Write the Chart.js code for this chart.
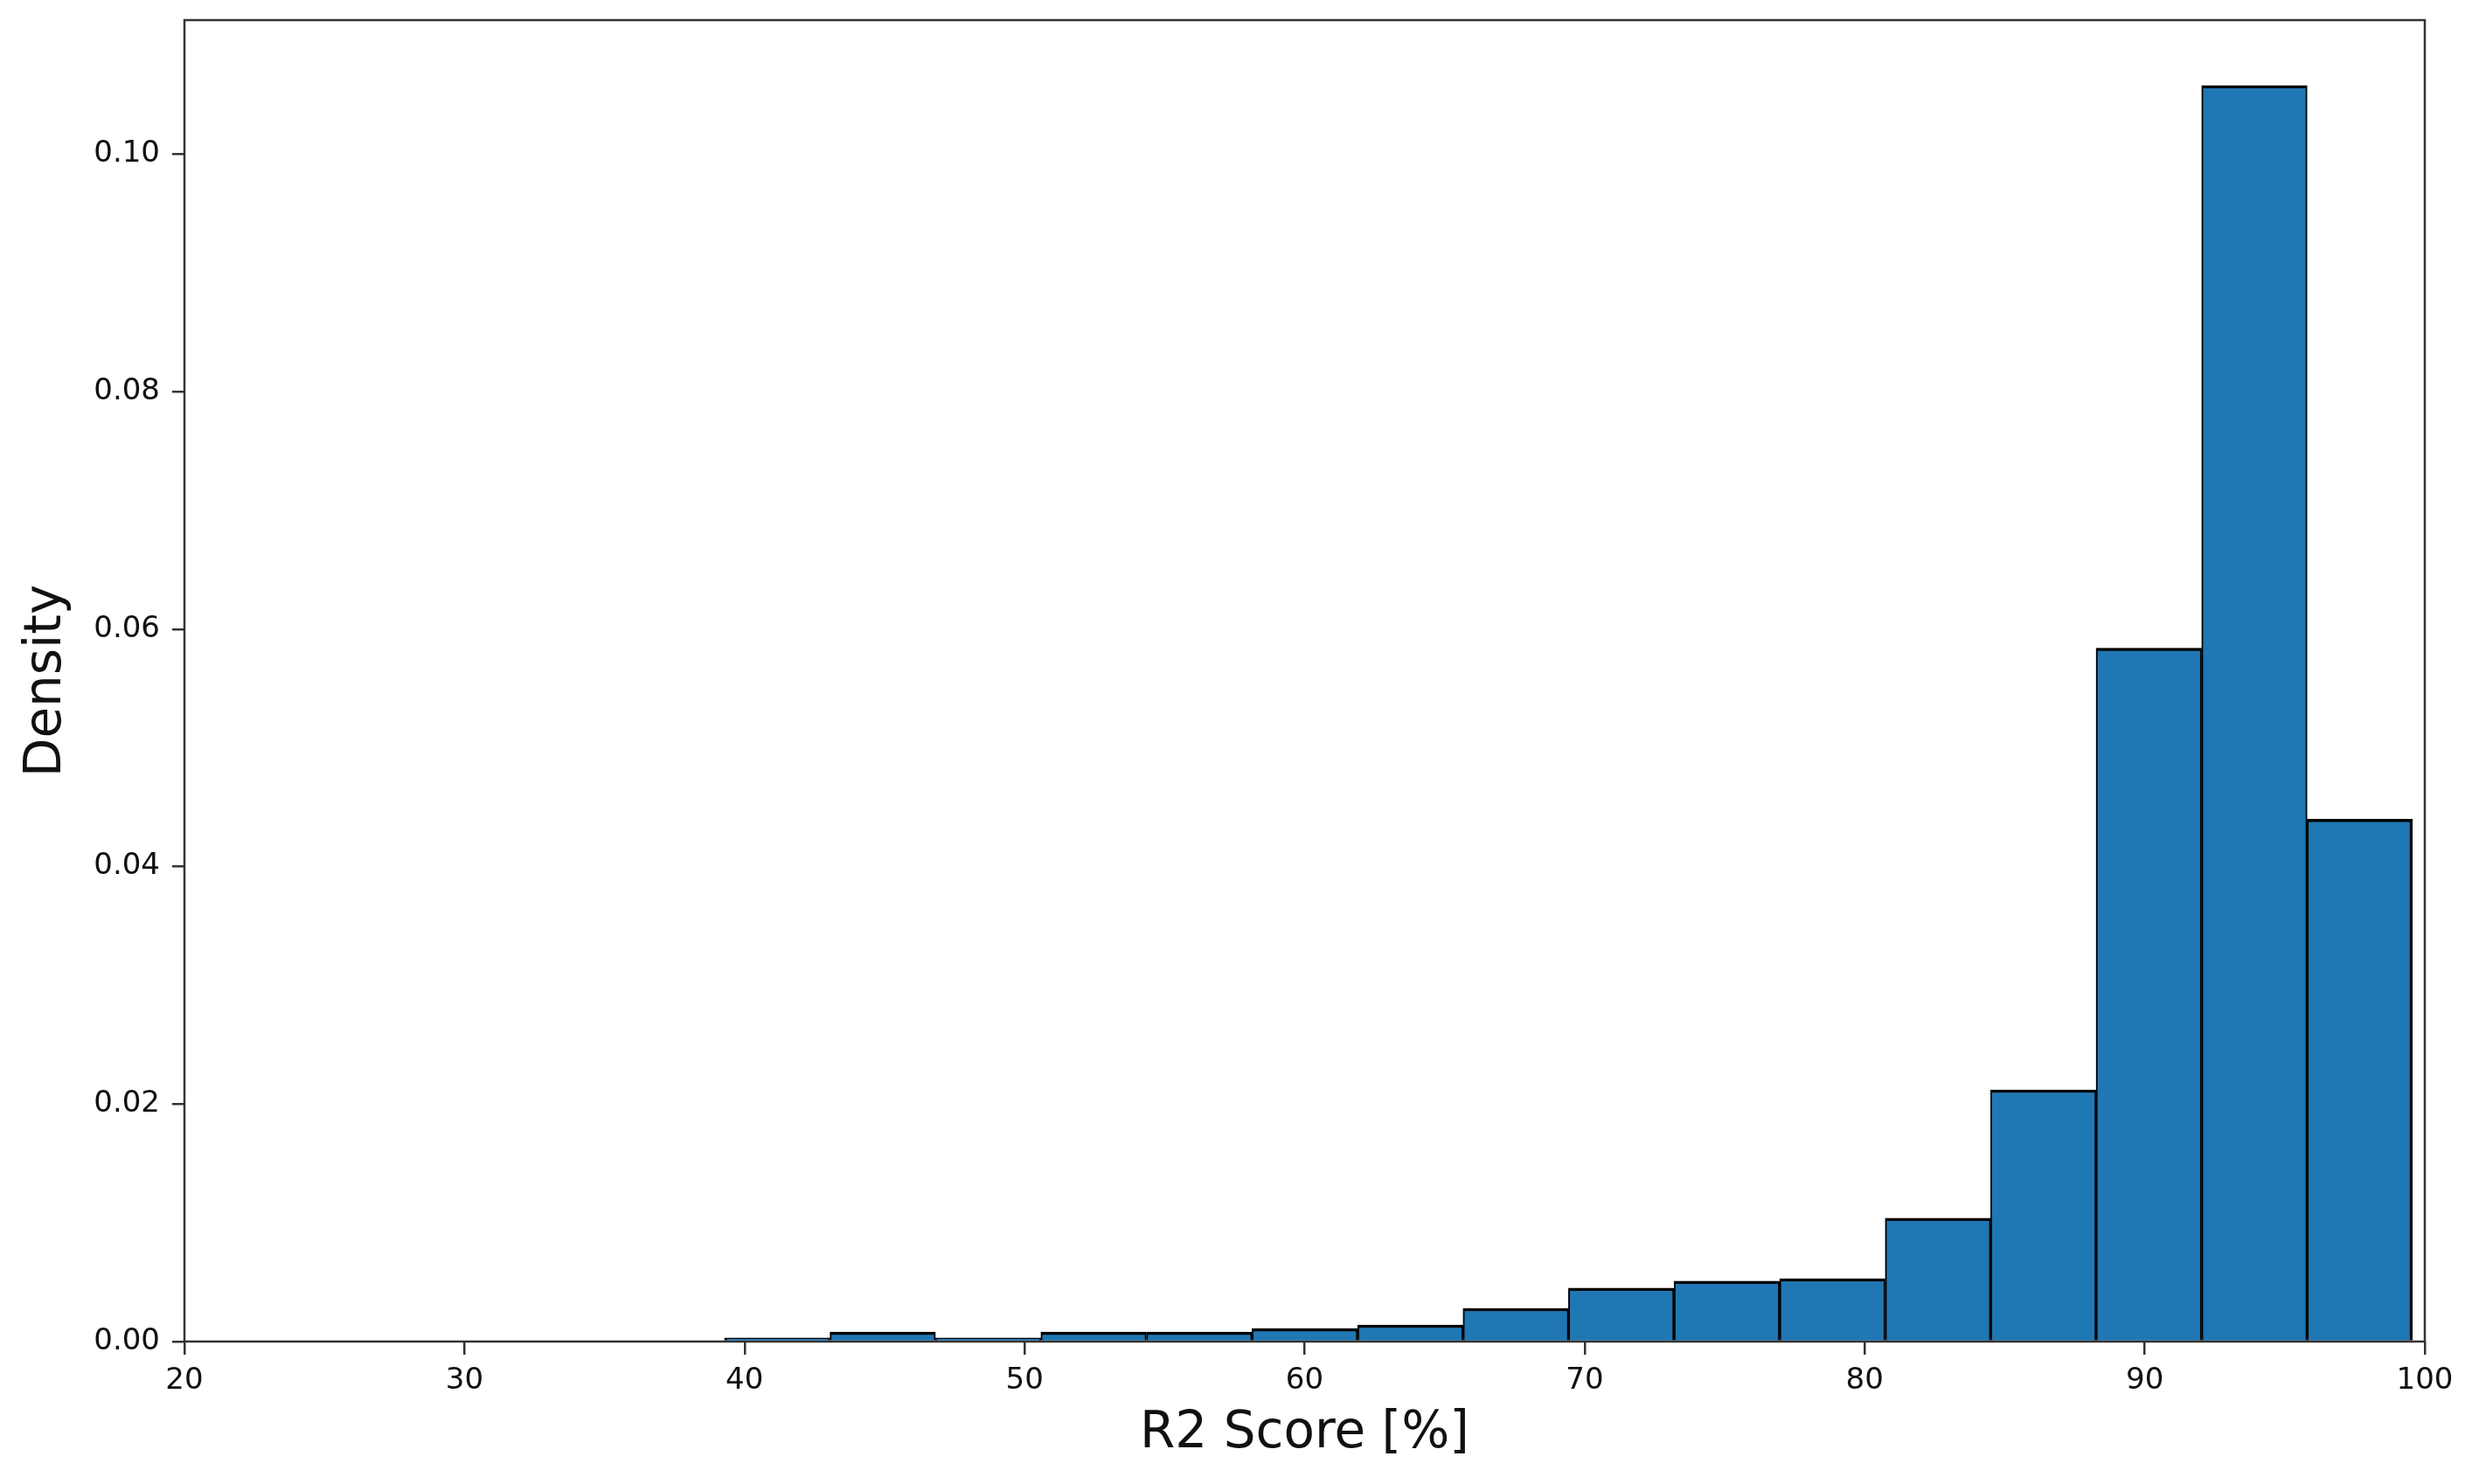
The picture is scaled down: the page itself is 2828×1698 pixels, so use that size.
<!DOCTYPE html>
<html>
<head>
<meta charset="utf-8">
<script src="https://cdn.jsdelivr.net/npm/chart.js@4.4.1/dist/chart.umd.min.js"></script>
<style>
  html, body { margin: 0; padding: 0; background: #fff; }
  #wrap { width: 2828px; height: 1698px; position: relative; }
</style>
</head>
<body>
<div id="wrap"><canvas id="histChart"></canvas></div>
<script>
// histogram bin edges (R2 score, %) and density per bin
const binEdges = [39.28, 43.05, 46.82, 50.58, 54.35, 58.12, 61.89, 65.66, 69.42,
                  73.19, 76.96, 80.73, 84.50, 88.26, 92.03, 95.80, 99.56];
const density  = [0.0003, 0.0008, 0.0003, 0.0008, 0.0008, 0.0011, 0.0014, 0.0028,
                  0.0045, 0.0051, 0.0053, 0.0104, 0.0212, 0.0584, 0.1058, 0.0440];
const xTicks = [20, 30, 40, 50, 60, 70, 80, 90, 100];
const yTicks = [0, 0.02, 0.04, 0.06, 0.08, 0.10];

const barPoints = density.map((d, i) => ({ x: (binEdges[i] + binEdges[i + 1]) / 2, y: d }));
const lastBar = density.length - 1;

const AXIS_CLR = '#333';
const TXT_CLR = '#111';
const FONT = "'DejaVu Sans', sans-serif";

// matplotlib-like frame around the plot area
const frame = {
    id: 'frame',
    afterDatasetsDraw(chart) {
        const { ctx, chartArea: a } = chart;
        ctx.save();
        ctx.strokeStyle = AXIS_CLR;
        ctx.lineWidth = 2.5;
        ctx.strokeRect(a.left, a.top, a.right - a.left, a.bottom - a.top);
        ctx.restore();
    }
};

new Chart(document.getElementById('histChart'), {
    type: 'bar',
    data: {
        datasets: [{
            data: barPoints,
            backgroundColor: '#1f77b4',
            borderColor: '#000',
            borderWidth: c => ({
                top: 3.5,
                left: c.dataIndex === 0 ? 3.5 : 2,
                right: c.dataIndex === lastBar ? 3.5 : 2,
                bottom: 0
            }),
            borderSkipped: 'start',
            barPercentage: 1,
            categoryPercentage: 1
        }]
    },
    options: {
        responsive: true,
        maintainAspectRatio: false,
        animation: false,
        layout: { padding: { top: 23, right: 54, left: 0, bottom: 0 } },
        plugins: { legend: { display: false }, tooltip: { enabled: false } },
        scales: {
            x: {
                type: 'linear',
                min: 20,
                max: 100,
                offset: false,
                afterBuildTicks: s => { s.ticks = xTicks.map(v => ({ value: v })); },
                afterFit: s => { s.height = 163; },
                grid: { drawOnChartArea: false, drawTicks: true, tickLength: 15, color: AXIS_CLR, lineWidth: 2.5, offset: false },
                border: { display: false },
                ticks: { color: TXT_CLR, font: { family: FONT, size: 34 }, padding: 10, maxRotation: 0 },
                title: { display: true, text: 'R2 Score [%]', color: TXT_CLR,
                         font: { family: FONT, size: 58 }, padding: { top: 0, bottom: 22 } }
            },
            y: {
                min: 0,
                max: 0.1113,
                afterBuildTicks: s => { s.ticks = yTicks.map(v => ({ value: v })); },
                afterFit: s => { s.width = 211; s.paddingTop = 0; s.paddingBottom = 0; },
                grid: { drawOnChartArea: false, drawTicks: true, tickLength: 14, color: AXIS_CLR, lineWidth: 2.5 },
                border: { display: false },
                ticks: { color: TXT_CLR, font: { family: FONT, size: 34 }, padding: 14,
                         callback: v => v.toFixed(2) },
                title: { display: true, text: 'Density', color: TXT_CLR,
                         font: { family: FONT, size: 58 }, padding: { top: 19, bottom: 0 } }
            }
        }
    },
    plugins: [frame]
});
</script>
</body>
</html>
